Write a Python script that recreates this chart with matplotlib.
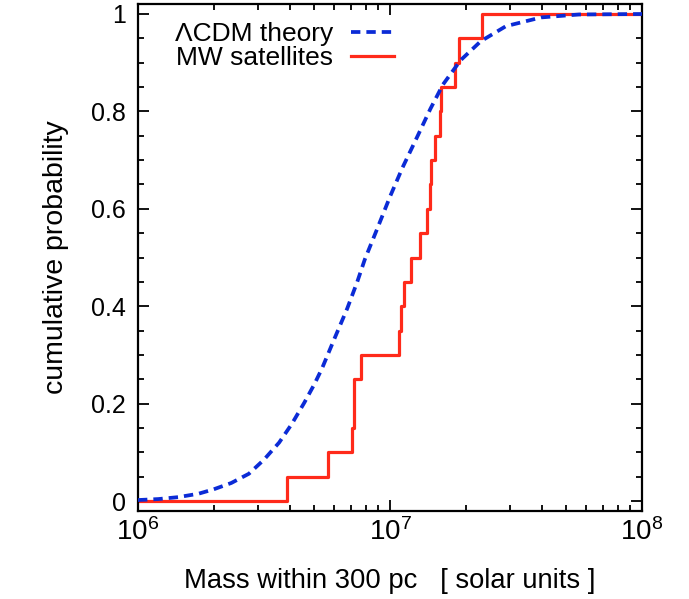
import numpy as np
import matplotlib
matplotlib.use('Agg')
import matplotlib.pyplot as plt
from matplotlib.ticker import LogLocator, MultipleLocator, FixedFormatter, FixedLocator


plt.rcParams['font.family'] = ['Liberation Sans', 'DejaVu Sans']
plt.rcParams['mathtext.fontset'] = 'custom'
plt.rcParams['mathtext.rm'] = 'Liberation Sans'
plt.rcParams['mathtext.it'] = 'Liberation Sans'

# LCDM theory curve (log10 mass, cumulative probability)
theory_logm = [6.0, 6.08, 6.16, 6.24, 6.30, 6.37, 6.44, 6.50, 6.56, 6.61,
               6.66, 6.70, 6.73, 6.78, 6.83, 6.87, 6.90, 6.95, 7.0, 7.05,
               7.11, 7.16, 7.21, 7.28, 7.36, 7.46, 7.6, 7.75, 8.0]
theory_cdf = [0.002, 0.004, 0.008, 0.015, 0.024, 0.037, 0.056, 0.085, 0.120, 0.158,
              0.202, 0.240, 0.272, 0.334, 0.395, 0.450, 0.496, 0.560, 0.625, 0.685,
              0.750, 0.805, 0.855, 0.905, 0.944, 0.975, 0.993, 0.999, 1.0]

# MW satellites, mass within 300 pc [solar units]
sat_mass = [3.9e6, 5.7e6, 7.05e6, 7.2e6, 7.2e6, 7.7e6, 1.09e7, 1.11e7, 1.14e7, 1.21e7,
            1.31e7, 1.40e7, 1.44e7, 1.46e7, 1.51e7, 1.58e7, 1.60e7, 1.81e7, 1.88e7, 2.31e7]

xmin, xmax = 1e6, 1e8

red = '#FF2A1A'
blue = '#0B2BD6'

fig = plt.figure(figsize=(6.89, 5.99), dpi=100)
ax = fig.add_axes([0.2003, 0.1469, 0.7315, 0.8464])

m = np.sort(sat_mass)
steps_x = np.concatenate([[xmin], m, [xmax]])
steps_y = np.concatenate([[0], np.arange(1, len(m) + 1) / len(m), [1]])

ax.plot(10 ** np.array(theory_logm), theory_cdf, color=blue, lw=2.7,
        dashes=(2.5, 1.6), label='ΛCDM theory', zorder=3)
ax.step(steps_x, steps_y, where='post', color=red, lw=2.3,
        label='MW satellites', zorder=2)

ax.set_xscale('log')
ax.set_xlim(xmin, xmax)
ax.set_ylim(-0.0205, 1.0205)

ax.xaxis.set_major_locator(FixedLocator([1e6, 1e7, 1e8]))
ax.xaxis.set_major_formatter(FixedFormatter([r'$10^6$', r'$10^7$', r'$10^8$']))
ax.xaxis.set_minor_locator(LogLocator(base=10, subs=np.arange(2, 10)))
ax.xaxis.set_minor_formatter(plt.NullFormatter())
ax.yaxis.set_minor_locator(MultipleLocator(0.05))
ax.set_yticks([0, 0.2, 0.4, 0.6, 0.8, 1.0])
ax.set_yticklabels(['0', '0.2', '0.4', '0.6', '0.8', '1'])

ax.tick_params(which='both', direction='in', top=True, right=True, width=1.3)
ax.tick_params(which='major', length=8)
ax.tick_params(which='minor', length=4.5)
ax.tick_params(axis='y', labelsize=18, pad=8.5)
ax.tick_params(axis='x', labelsize=20, pad=5)
for s in ax.spines.values():
    s.set_linewidth(1.6)

ax.set_xlabel('Mass within 300 pc   [ solar units ]', fontsize=19.7, labelpad=16)
ax.set_ylabel('cumulative probability', fontsize=20.5, labelpad=16)

ax.legend(loc='upper right', frameon=False, markerfirst=False, fontsize=19,
          handlelength=1.6, handletextpad=0.7, labelspacing=0.0,
          borderaxespad=0.0, borderpad=0.4, bbox_to_anchor=(0.528, 0.985))

fig.savefig('out.png', dpi=100)
